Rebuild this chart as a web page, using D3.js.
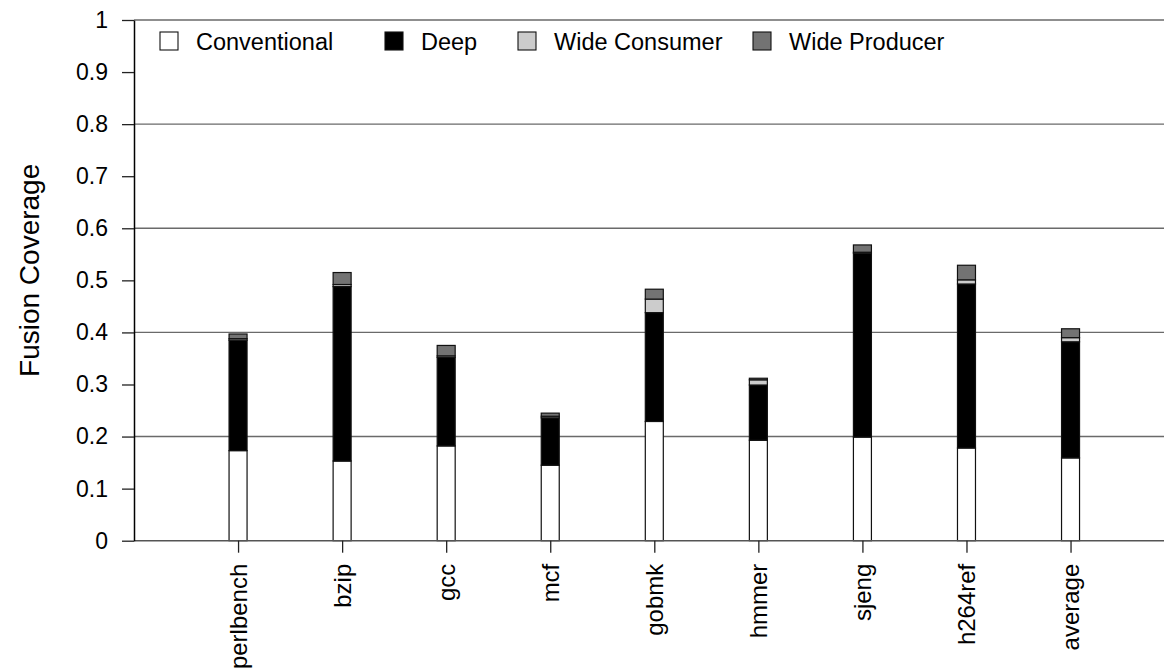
<!DOCTYPE html>
<html>
<head>
<meta charset="utf-8">
<script src="https://cdn.jsdelivr.net/npm/d3@7"></script>
<style>
  html, body { margin: 0; padding: 0; background: #fff; }
  svg { display: block; font-family: "Liberation Sans", Arial, Helvetica, sans-serif; }
</style>
</head>
<body>
<svg id="chart" width="1164" height="671"></svg>
<script>
const categories = ["perlbench", "bzip", "gcc", "mcf", "gobmk", "hmmer", "sjeng", "h264ref", "average"];
const seriesNames = ["Conventional", "Deep", "Wide Consumer", "Wide Producer"];
const conventional = [0.173, 0.153, 0.182, 0.145, 0.229, 0.193, 0.199, 0.178, 0.159];
const deep         = [0.212, 0.335, 0.170, 0.091, 0.209, 0.106, 0.353, 0.315, 0.223];
const wideConsumer = [0.003, 0.004, 0.003, 0.003, 0.026, 0.010, 0.002, 0.008, 0.008];
const wideProducer = [0.009, 0.023, 0.020, 0.006, 0.019, 0.003, 0.014, 0.028, 0.017];
const yTicks = [0, 0.1, 0.2, 0.3, 0.4, 0.5, 0.6, 0.7, 0.8, 0.9, 1];
const gridTicks = [0.2, 0.4, 0.6, 0.8, 1];
const colors = ["#ffffff", "#000000", "#cccccc", "#737373"];

const W = 1164, H = 671;
const svg = d3.select("#chart");

const x0 = 134, xEnd = 1164;
const x = d3.scaleLinear().domain([0, categories.length + 1]).range([x0, x0 + 104.06 * (categories.length + 1)]);
const y = d3.scaleLinear().domain([0, 1]).range([540.7, 20]);

const rows = categories.map((c, i) => ({
  cat: c, idx: i + 1,
  "Conventional": conventional[i],
  "Deep": deep[i],
  "Wide Consumer": wideConsumer[i],
  "Wide Producer": wideProducer[i]
}));
const stacked = d3.stack().keys(seriesNames)(rows);

// grid lines
svg.append("g").selectAll("line").data(gridTicks).join("line")
  .attr("x1", x0).attr("x2", xEnd)
  .attr("y1", d => y(d)).attr("y2", d => y(d))
  .attr("stroke", "#6a6a6a").attr("stroke-width", 1.4);

// bars
const barW = 18;
const layers = svg.append("g").selectAll("g").data(stacked).join("g")
  .attr("fill", (d, i) => colors[i]);
layers.selectAll("rect").data(d => d).join("rect")
  .attr("x", d => x(d.data.idx) - barW / 2)
  .attr("width", barW)
  .attr("y", d => y(d[1]))
  .attr("height", d => Math.max(0, y(d[0]) - y(d[1])))
  .attr("stroke", "#111").attr("stroke-width", 1.2);

// x axis
svg.append("line").attr("x1", x0).attr("x2", xEnd)
  .attr("y1", y(0)).attr("y2", y(0))
  .attr("stroke", "#555").attr("stroke-width", 1.5);
const xAxis = svg.append("g").attr("transform", `translate(0,${y(0)})`)
  .call(d3.axisBottom(x).tickValues(categories.map((c, i) => i + 1))
    .tickFormat(d => categories[d - 1]).tickSize(12).tickSizeOuter(0));
xAxis.select(".domain").remove();
xAxis.selectAll(".tick line").attr("stroke", "#222").attr("stroke-width", 1.3);
xAxis.selectAll(".tick text")
  .attr("font-size", 24).attr("fill", "#000")
  .attr("transform", "rotate(-90)")
  .attr("text-anchor", "end")
  .attr("x", -23).attr("y", 0).attr("dy", "0.35em");

// y axis
const yAxis = svg.append("g").attr("transform", `translate(${x0},0)`)
  .call(d3.axisLeft(y).tickValues(yTicks).tickFormat(d3.format("~g")).tickSize(12).tickSizeOuter(0).tickPadding(14));
yAxis.select(".domain").attr("stroke", "#000").attr("stroke-width", 1.5);
yAxis.selectAll(".tick line").attr("stroke", "#222").attr("stroke-width", 1.3);
yAxis.selectAll(".tick text").attr("font-size", 23).attr("fill", "#000");

// y title
svg.append("text")
  .attr("transform", `translate(39,${(y(0) + y(1)) / 2 - 10}) rotate(-90)`)
  .attr("text-anchor", "middle")
  .attr("font-size", 28).attr("fill", "#000")
  .text("Fusion Coverage");

// legend
const legendX = [160, 385, 518, 753];
const lg = svg.append("g").selectAll("g").data(seriesNames).join("g")
  .attr("transform", (d, i) => `translate(${legendX[i]},32)`);
lg.append("rect").attr("width", 18).attr("height", 18)
  .attr("fill", (d, i) => colors[i]).attr("stroke", "#111").attr("stroke-width", 1.1);
lg.append("text").attr("x", 36).attr("y", 17.5)
  .attr("font-size", 23.5).attr("fill", "#000").text(d => d);
</script>
</body>
</html>
